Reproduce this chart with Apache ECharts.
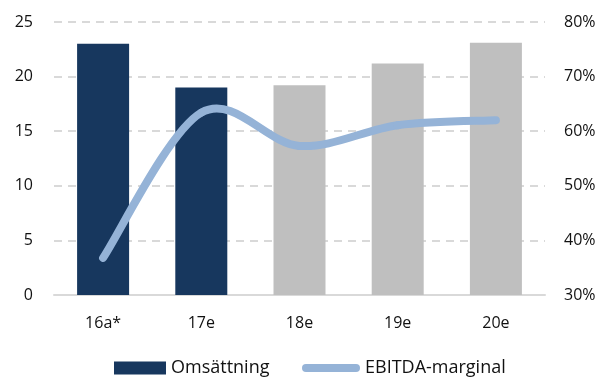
<!DOCTYPE html>
<html><head><meta charset="utf-8">
<script src="https://cdn.jsdelivr.net/npm/echarts@6/dist/echarts.min.js"></script>
<style>html,body{margin:0;padding:0;background:#fff}#c{width:603px;height:378px}</style>
</head><body><div id="c"></div>
<script>
const categories = ['16a*', '17e', '18e', '19e', '20e'];
const omsattning = [23, 19, 19.2, 21.2, 23.1];
const ebitdaMarginal = [36.8, 63.4, 57.3, 61.1, 62.0];
const actualCount = 2;
const leftTicks = [0, 25, 5];
const rightTicks = [30, 80, 10];

const FONT = 'Open Sans';
const LINE_COLOR = '#95b3d7';
const chart = echarts.init(document.getElementById('c'), null, {renderer: 'canvas'});

// Excel-style smoothed line (Catmull-Rom -> cubic Bezier), one segment per data item
function renderSegment(params, api) {
  const i = params.dataIndex;
  const n = ebitdaMarginal.length;
  if (i >= n - 1) return null;
  const P = j => {
    const k = Math.max(0, Math.min(n - 1, j));
    return api.coord([k, ebitdaMarginal[k]]);
  };
  const p0 = P(i - 1), p1 = P(i), p2 = P(i + 1), p3 = P(i + 2);
  const c1 = [p1[0] + (p2[0] - p0[0]) / 6, p1[1] + (p2[1] - p0[1]) / 6];
  const c2 = [p2[0] - (p3[0] - p1[0]) / 6, p2[1] - (p3[1] - p1[1]) / 6];
  return {
    type: 'path',
    shape: {pathData: `M${p1[0]} ${p1[1]} C${c1[0]} ${c1[1]} ${c2[0]} ${c2[1]} ${p2[0]} ${p2[1]}`},
    style: {fill: 'none', stroke: LINE_COLOR, lineWidth: 8, lineCap: 'round', lineJoin: 'round'}
  };
}

chart.setOption({
  animation: false,
  textStyle: {fontFamily: FONT},
  grid: {left: 54, right: 58, top: 22, bottom: 83},
  legend: [
    {left: 114, top: 359, padding: 0, itemWidth: 52, itemHeight: 13, itemGap: 6, icon: 'rect',
     data: ['Omsättning'], textStyle: {fontSize: 18, color: '#111', fontFamily: FONT}},
    {left: 302, top: 359, padding: 0, itemWidth: 58, itemHeight: 8,
     icon: 'path://M4,0 L54,0 A4,4 0 0 1 54,8 L4,8 A4,4 0 0 1 4,0 Z',
     data: [{name: 'EBITDA-marginal', itemStyle: {color: LINE_COLOR}}], textStyle: {fontSize: 18, color: '#111', fontFamily: FONT}}
  ],
  xAxis: {
    type: 'category', data: categories,
    axisLine: {lineStyle: {color: '#d9d9d9', width: 2}},
    axisTick: {show: false},
    axisLabel: {fontSize: 16, color: '#111', margin: 20, fontFamily: FONT}
  },
  yAxis: [
    {type: 'value', min: leftTicks[0], max: leftTicks[1], interval: leftTicks[2],
     axisLabel: {fontSize: 16, color: '#111', margin: 21, fontFamily: FONT},
     axisLine: {show: false}, axisTick: {show: false},
     splitLine: {lineStyle: {color: '#d9d9d9', type: [8, 6], width: 2}}},
    {type: 'value', min: rightTicks[0], max: rightTicks[1], interval: rightTicks[2],
     axisLabel: {fontSize: 16, color: '#111', margin: 19, fontFamily: FONT, formatter: v => v + '%'},
     axisLine: {show: false}, axisTick: {show: false}, splitLine: {show: false}}
  ],
  series: [
    {name: 'Omsättning', type: 'bar', barWidth: 52, yAxisIndex: 0,
     itemStyle: {color: '#17375e'},
     data: omsattning.map((v, i) => ({value: v, itemStyle: {color: i < actualCount ? '#17375e' : '#bfbfbf'}}))},
    {name: 'EBITDA-marginal', type: 'custom', yAxisIndex: 1,
     itemStyle: {color: LINE_COLOR},
     renderItem: renderSegment,
     encode: {x: 0, y: 1},
     data: ebitdaMarginal.map((v, i) => [i, v]),
     z: 3}
  ]
});
</script></body></html>
